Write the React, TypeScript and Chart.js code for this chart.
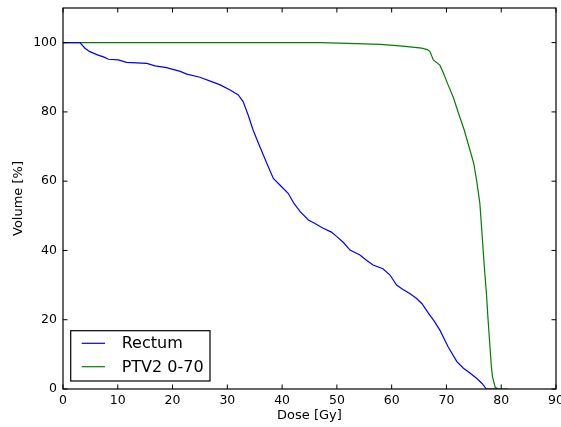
import React, { useEffect, useRef } from "react";
import { Chart, registerables } from "chart.js";

Chart.register(...registerables);

const seriesNames = ["Rectum", "PTV2 0-70"];
const seriesColors = ["#0000ff", "#008000"];

const rectumDose = [0, 3.1, 4.0, 4.9, 6.4, 7.4, 8.3, 10.1, 11.6, 15.3, 16.8, 18.9, 21.4, 22.6, 25, 27, 28.7, 30.5, 32, 32.9, 33.8, 34.7, 35.7, 37.2, 38.4, 39.6, 41.1, 42.2, 43.3, 44.8, 46, 47.5, 49, 50, 51.2, 52.4, 54.2, 55.4, 56.6, 58.4, 59.7, 60.9, 62, 63.3, 64.5, 65.5, 66.7, 67.8, 68.8, 70.3, 71.9, 73.1, 74.3, 75.5, 76.5, 77.3, 79.2];
const rectumVolume = [100, 100, 98.4, 97.4, 96.4, 95.9, 95.2, 95.0, 94.3, 94.0, 93.3, 92.8, 91.7, 90.9, 90.0, 88.8, 87.8, 86.3, 84.9, 82.9, 79.1, 74.8, 70.9, 65.2, 60.8, 58.9, 56.5, 53.5, 51.2, 48.8, 47.8, 46.4, 45.3, 44.0, 42.3, 40.1, 38.7, 37.2, 35.8, 34.7, 32.9, 30.0, 28.8, 27.6, 26.2, 24.7, 21.9, 19.5, 17.0, 12.2, 7.9, 6.0, 4.6, 3.1, 1.6, 0, 0];

const ptvDose = [0, 47, 52, 58, 62, 65.5, 66.5, 67, 67.6, 68.8, 69.5, 70.3, 71.3, 72.2, 73.2, 74.2, 75, 75.5, 76.1, 76.4, 76.7, 77.0, 77.3, 77.6, 77.9, 78.2, 78.4, 78.9, 79.5, 81.2];
const ptvVolume = [100, 100, 99.8, 99.5, 99.0, 98.4, 98.0, 97.4, 95, 93.5, 91, 87.8, 84, 79.6, 75, 69.5, 65, 60.3, 53.6, 47, 40.1, 33.5, 27.6, 20, 13.2, 6.5, 3.6, 0.5, 0, 0];

const xTicks = [0, 10, 20, 30, 40, 50, 60, 70, 80, 90];
const yTicks = [0, 20, 40, 60, 80, 100];
const xTitle = "Dose [Gy]";
const yTitle = "Volume [%]";

const FONT = "'DejaVu Sans', sans-serif";

const framePlugin = {
  id: "frameTicks",
  afterDatasetsDraw(chart: any) {
    const { ctx, chartArea, scales } = chart;
    const { left, right, top, bottom } = chartArea;
    ctx.save();
    ctx.strokeStyle = "#000";
    ctx.lineWidth = 1.2;
    ctx.strokeRect(left, top, right - left, bottom - top);
    const tl = 4.5;
    ctx.lineWidth = 1;
    ctx.beginPath();
    for (const v of xTicks) {
      const x = scales.x.getPixelForValue(v);
      ctx.moveTo(x, bottom);
      ctx.lineTo(x, bottom - tl);
      ctx.moveTo(x, top);
      ctx.lineTo(x, top + tl);
    }
    for (const v of yTicks) {
      const y = scales.y.getPixelForValue(v);
      ctx.moveTo(left, y);
      ctx.lineTo(left + tl, y);
      ctx.moveTo(right, y);
      ctx.lineTo(right - tl, y);
    }
    ctx.stroke();

    // legend (matplotlib style, lower left)
    const bx = left + 7.7;
    const by = bottom - 58.3;
    const bw = 139.3;
    const bh = 50.3;
    ctx.fillStyle = "#fff";
    ctx.fillRect(bx, by, bw, bh);
    ctx.strokeStyle = "#000";
    ctx.lineWidth = 1.2;
    ctx.strokeRect(bx, by, bw, bh);
    ctx.font = `16px ${FONT}`;
    ctx.textBaseline = "middle";
    ctx.textAlign = "left";
    chart.data.datasets.forEach((ds: any, i: number) => {
      const y = by + 12.6 + i * 23.4;
      ctx.strokeStyle = ds.borderColor;
      ctx.lineWidth = 1.2;
      ctx.beginPath();
      ctx.moveTo(bx + 11, y);
      ctx.lineTo(bx + 34.3, y);
      ctx.stroke();
      ctx.fillStyle = "#000";
      ctx.fillText(ds.label, bx + 51, y + 1);
    });
    ctx.restore();
  },
};

const zeroPad = (s: any) => {
  s.paddingLeft = 0;
  s.paddingRight = 0;
  s.paddingTop = 0;
  s.paddingBottom = 0;
};

export default function App() {
  const ref = useRef<HTMLCanvasElement | null>(null);
  useEffect(() => {
    if (!ref.current) return;
    const chart = new Chart(ref.current, {
      type: "line",
      data: {
        datasets: [
          {
            label: seriesNames[0],
            data: rectumDose.map((d, i) => ({ x: d, y: rectumVolume[i] })),
            borderColor: seriesColors[0],
            backgroundColor: seriesColors[0],
            borderWidth: 1.2,
            pointRadius: 0,
            tension: 0,
          },
          {
            label: seriesNames[1],
            data: ptvDose.map((d, i) => ({ x: d, y: ptvVolume[i] })),
            borderColor: seriesColors[1],
            backgroundColor: seriesColors[1],
            borderWidth: 1.2,
            pointRadius: 0,
            tension: 0,
          },
        ],
      },
      options: {
        animation: false,
        responsive: false,
        maintainAspectRatio: false,
        layout: { padding: { top: 8, right: 5, left: 0, bottom: 0 } },
        plugins: { legend: { display: false }, tooltip: { enabled: false } },
        scales: {
          x: {
            type: "linear",
            min: 0,
            max: 90,
            grid: { display: false, drawTicks: false },
            border: { display: false },
            ticks: {
              stepSize: 10,
              padding: 4.5,
              color: "#000",
              font: { family: FONT, size: 12.5 },
              maxRotation: 0,
            },
            title: {
              display: true,
              text: xTitle,
              color: "#000",
              font: { family: FONT, size: 13 },
              padding: { top: 0, bottom: 3.5 },
            },
            afterFit: (s: any) => {
              s.height = 38;
              zeroPad(s);
            },
          },
          y: {
            type: "linear",
            min: 0,
            max: 110,
            grid: { display: false, drawTicks: false },
            border: { display: false },
            ticks: {
              stepSize: 20,
              padding: 6,
              color: "#000",
              font: { family: FONT, size: 12.5 },
              callback: (v: any) => (yTicks.includes(Number(v)) ? String(v) : ""),
            },
            title: {
              display: true,
              text: yTitle,
              color: "#000",
              font: { family: FONT, size: 13 },
              padding: { top: 10.7, bottom: 0 },
            },
            afterFit: (s: any) => {
              s.width = 63;
              zeroPad(s);
            },
          },
        },
      },
      plugins: [framePlugin],
    });
    return () => chart.destroy();
  }, []);
  return (
    <div style={{ position: "fixed", left: 0, top: 0, width: 561, height: 427, background: "#fff" }}>
      <canvas ref={ref} width={561} height={427} style={{ width: 561, height: 427, display: "block" }} />
    </div>
  );
}
